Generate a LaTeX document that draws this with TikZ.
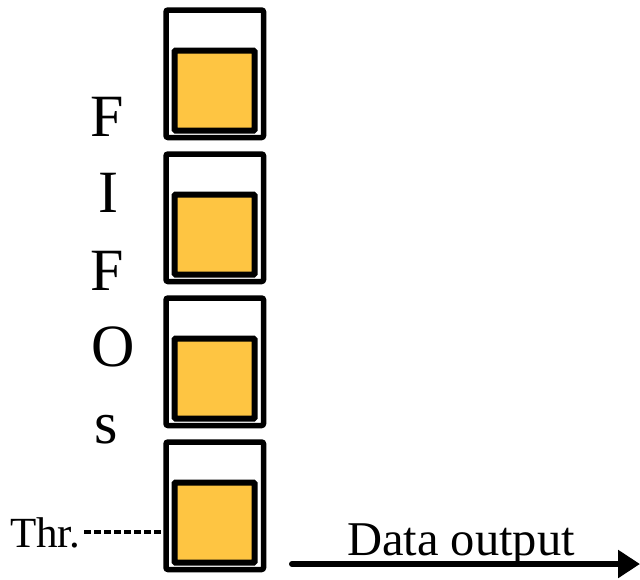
\documentclass[tikz,border=0pt]{standalone}
\usepackage{fontspec}
\setmainfont{Liberation Serif}
\usetikzlibrary{arrows.meta}
\definecolor{fifofill}{HTML}{FEC542}
\tikzset{
  outerbox/.style={draw=black, line width=5.5pt, rounded corners=2pt, minimum width=97.5pt, minimum height=127.5pt, inner sep=0pt, fill=white},
  innerbox/.style={draw=black, line width=6pt, fill=fifofill, minimum width=80pt, minimum height=80pt, inner sep=0pt, rounded corners=1pt},
  bigletter/.style={anchor=base, inner sep=0pt, font=\fontsize{60}{60}\selectfont},
  lbl/.style={anchor=base west, inner sep=0pt},
}
\begin{document}
\begin{tikzpicture}[x=1pt,y=1pt]
\useasboundingbox (0,0) rectangle (640,-579);
% FIFO boxes
\foreach \k in {0,1,2,3}{
  \node[outerbox] (box\k) at (214.75,{-73.75-144*\k}) {};
  \node[innerbox] (in\k) at (214.5,{-90.5-144*\k}) {};
}
% FIFOs letters
\node[bigletter] (lF1) at (107,-136) {F};
\node[bigletter] (lI) at (108,-212) {I};
\node[bigletter] (lF2) at (107,-290) {F};
\node[bigletter] (lO) at (113,-366) {O};
\node[bigletter] (ls) at (106,-443) {s};
% Threshold
\node[lbl, font=\fontsize{43}{43}\selectfont] (thr) at (10,-547) {Thr.};
\coordinate (tstart) at (84,-532);
\coordinate (tend) at (box3.west |- tstart);
\draw[line width=3.5pt, dash pattern=on 7pt off 3pt] (tstart) -- (tend);
% Data output
\node[lbl, font=\fontsize{48.5}{48.5}\selectfont] (dout) at (347,-555) {Data output};
\coordinate (astart) at (292,-564);
\coordinate (aend) at (640,-564);
\draw[line width=6pt, line cap=round, -{Triangle[length=22pt,width=27pt]}] (astart) -- (aend);
\end{tikzpicture}
\end{document}
